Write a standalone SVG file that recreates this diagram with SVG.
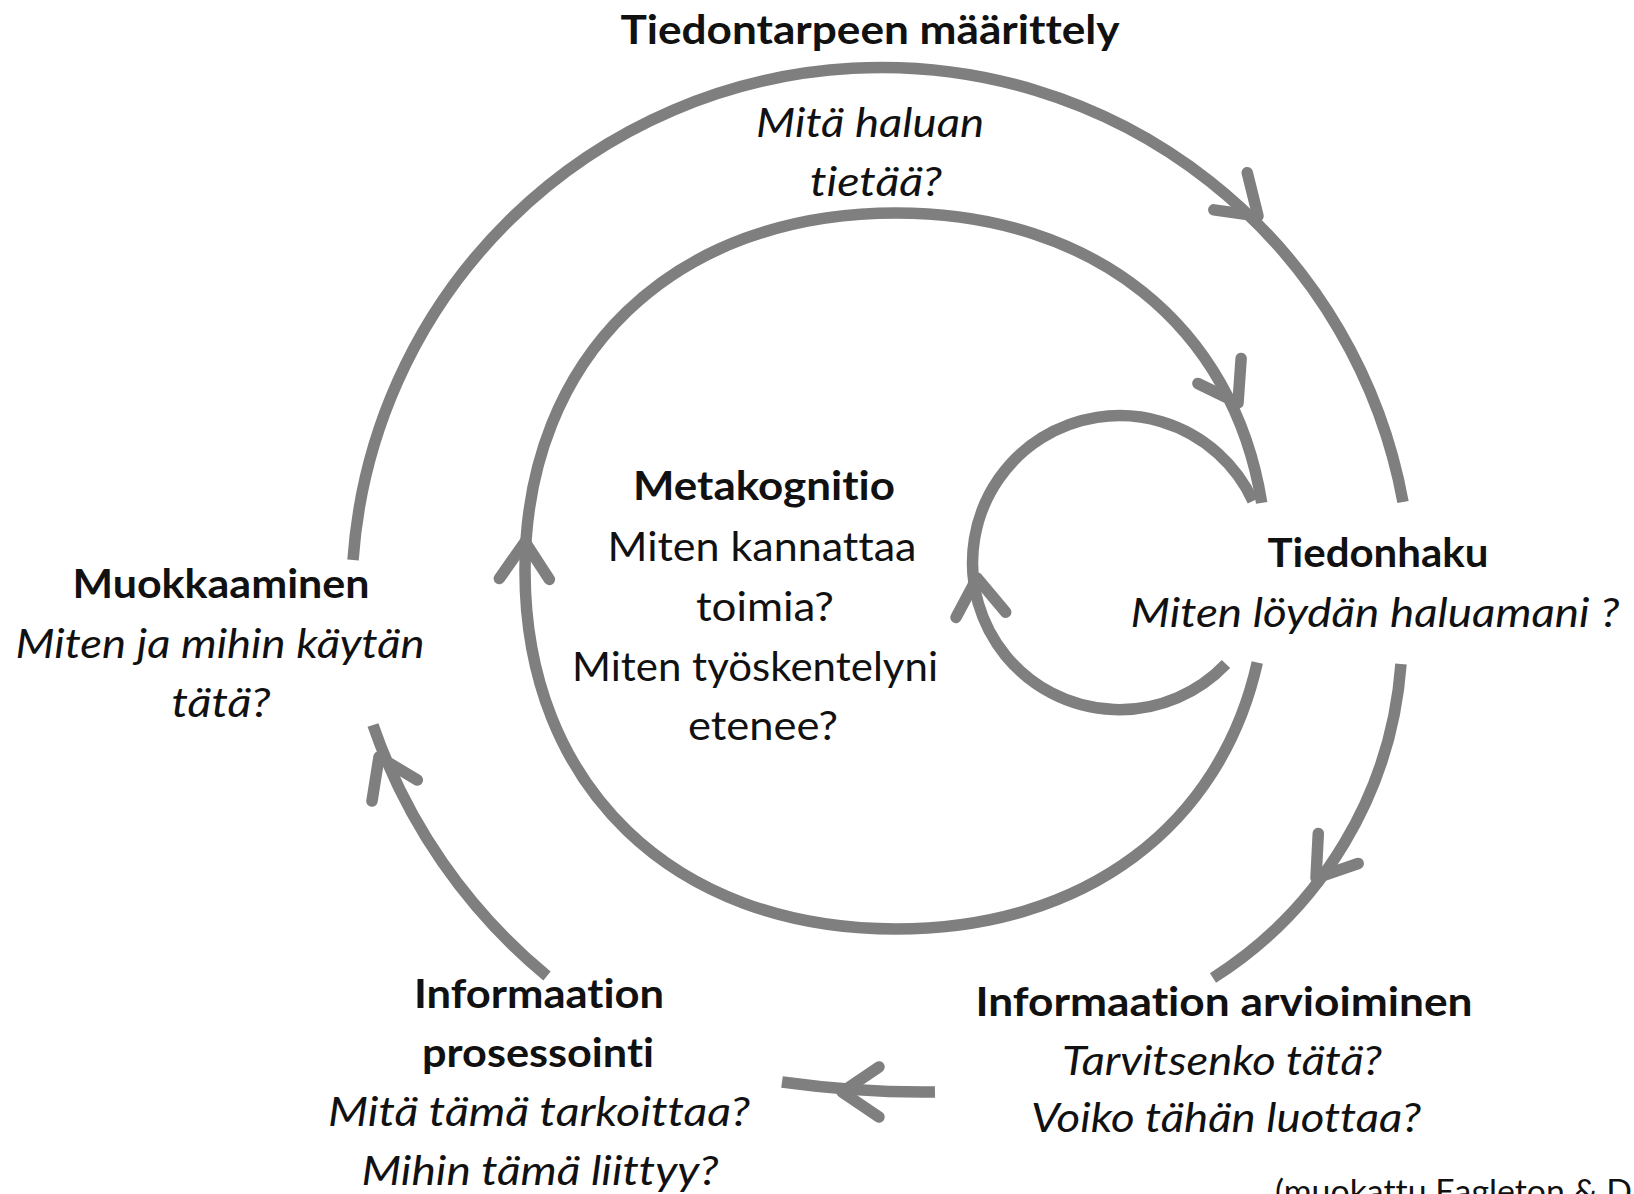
<svg xmlns="http://www.w3.org/2000/svg" xmlns:xlink="http://www.w3.org/1999/xlink" width="1634" height="1194" viewBox="0 0 1634 1194">
<style>
.line{fill:none;stroke:#7f7f7f;stroke-width:11.5;stroke-linecap:butt}
.head{fill:none;stroke:#7f7f7f;stroke-width:11.5;stroke-linecap:round;stroke-linejoin:round}
text{font-family:Lato,"Liberation Sans",sans-serif;font-size:41px;fill:#111;text-anchor:middle;font-variant-ligatures:none;font-feature-settings:"liga" 0,"dlig" 0,"clig" 0}
.b{font-weight:bold}
.i{font-style:italic}
.src{font-size:33px;text-anchor:start}
</style>
<defs>
<path id="chev" d="M-37,-25 L0,0 L-37,25"/>
</defs>
<rect width="1634" height="1194" fill="#fff"/>
<g id="connectors">
<path class="line" d="M353,560 A530,530 0 0 1 1403,502"/>
<path class="line" d="M1401,664 A407,407 0 0 1 1213,978"/>
<path class="line" d="M547,976 A563,563 0 0 1 373,725"/>
<path class="line" d="M935,1092 Q862,1093 782,1082"/>
<path class="line" d="M1257.3,662.6 C1220.8,825.6 1085.2,929 896,929 C673.4,929 525,785.8 525,571 C525,356.2 673.4,213 896,213 C1094.1,213 1233.5,326.4 1261.7,502.8"/>
<path class="line" d="M1226,664 A147,147 0 1 1 1253,501"/>
<use xlink:href="#chev" class="head" transform="translate(1258,216) rotate(42)"/>
<use xlink:href="#chev" class="head" transform="translate(1238,403) rotate(60)"/>
<use xlink:href="#chev" class="head" transform="translate(977,578) rotate(-96)"/>
<use xlink:href="#chev" class="head" transform="translate(525,542) rotate(-89)"/>
<use xlink:href="#chev" class="head" transform="translate(1316,878) rotate(127)"/>
<use xlink:href="#chev" class="head" transform="translate(379,757) rotate(-115)"/>
<use xlink:href="#chev" class="head" transform="translate(842,1092) rotate(180)"/>
</g>
<g id="node-maarittely">
<text class="b" x="870" y="44" textLength="499" lengthAdjust="spacingAndGlyphs">Tiedontarpeen määrittely</text>
<text class="i" x="870" y="137" textLength="228" lengthAdjust="spacingAndGlyphs">Mitä haluan</text>
<text class="i" x="876" y="196" textLength="132" lengthAdjust="spacingAndGlyphs">tietää?</text>
</g>
<g id="node-metakognitio">
<text class="b" x="764" y="500" textLength="262" lengthAdjust="spacingAndGlyphs">Metakognitio</text>
<text x="762" y="561" textLength="309" lengthAdjust="spacingAndGlyphs">Miten kannattaa</text>
<text x="765" y="621" textLength="138" lengthAdjust="spacingAndGlyphs">toimia?</text>
<text x="755" y="681" textLength="366" lengthAdjust="spacingAndGlyphs">Miten työskentelyni</text>
<text x="763" y="740" textLength="150" lengthAdjust="spacingAndGlyphs">etenee?</text>
</g>
<g id="node-muokkaaminen">
<text class="b" x="221" y="598" textLength="297" lengthAdjust="spacingAndGlyphs">Muokkaaminen</text>
<text class="i" x="220" y="658" textLength="409" lengthAdjust="spacingAndGlyphs">Miten ja mihin käytän</text>
<text class="i" x="221" y="717" textLength="99" lengthAdjust="spacingAndGlyphs">tätä?</text>
</g>
<g id="node-tiedonhaku">
<text class="b" x="1378" y="567" textLength="221" lengthAdjust="spacingAndGlyphs">Tiedonhaku</text>
<text class="i" x="1375" y="627" textLength="489" lengthAdjust="spacingAndGlyphs">Miten löydän haluamani ?</text>
</g>
<g id="node-arvioiminen">
<text class="b" x="1224" y="1016" textLength="497" lengthAdjust="spacingAndGlyphs">Informaation arvioiminen</text>
<text class="i" x="1222" y="1075" textLength="320" lengthAdjust="spacingAndGlyphs">Tarvitsenko tätä?</text>
<text class="i" x="1226" y="1132" textLength="390" lengthAdjust="spacingAndGlyphs">Voiko tähän luottaa?</text>
</g>
<g id="node-prosessointi">
<text class="b" x="539" y="1008" textLength="250" lengthAdjust="spacingAndGlyphs">Informaation</text>
<text class="b" x="538" y="1067" textLength="232" lengthAdjust="spacingAndGlyphs">prosessointi</text>
<text class="i" x="539" y="1126" textLength="422" lengthAdjust="spacingAndGlyphs">Mitä tämä tarkoittaa?</text>
<text class="i" x="540" y="1185" textLength="357" lengthAdjust="spacingAndGlyphs">Mihin tämä liittyy?</text>
</g>
<g id="source">
<text class="src" x="1275" y="1203" textLength="357" lengthAdjust="spacingAndGlyphs">(muokattu Eagleton &amp; D</text>
</g>
</svg>
